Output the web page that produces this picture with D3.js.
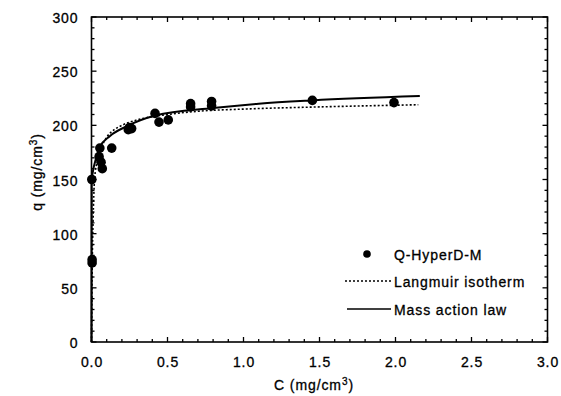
<!DOCTYPE html>
<html><head><meta charset="utf-8">
<script src="https://cdn.jsdelivr.net/npm/d3@7"></script>
<style>body{margin:0;background:#fff}svg{display:block}text{font-family:"Liberation Sans",Arial,sans-serif;fill:#000;stroke:#000;stroke-width:0.3px;letter-spacing:0.9px}</style>
</head><body><svg id="c" width="561" height="396"></svg>
<script>
// Data
const pointC = [0.002, 0.004, 0.004, 0.05, 0.055, 0.063, 0.071, 0.133, 0.242, 0.264, 0.25, 0.418, 0.444, 0.505, 0.652, 0.652, 0.79, 0.79, 1.453, 1.99];
const pointQ = [150, 76, 73, 171, 179, 166, 160, 179, 196, 197, 198, 211, 203, 205, 220, 217, 222, 218, 223, 221];
const langC = [0, 0.005, 0.01, 0.02, 0.04, 0.07, 0.1, 0.15, 0.2, 0.3, 0.4, 0.5, 0.7, 1.0, 1.5, 2.15];
const langQ = [0, 74, 110, 150, 168, 181, 189, 196, 200, 205, 208, 210, 213, 215, 217, 219];
const massC = [0, 0.001, 0.01, 0.025, 0.055, 0.12, 0.23, 0.42, 0.8, 1.1, 1.45, 2.16];
const massQ = [0, 148, 158, 167, 180, 190, 199, 209, 216, 220, 223, 227];
const xTicks = [0, 0.5, 1.0, 1.5, 2.0, 2.5, 3.0];
const yTicks = [0, 50, 100, 150, 200, 250, 300];
const legendLabels = ["Q-HyperD-M", "Langmuir isotherm", "Mass action law"];

const svg = d3.select("#c");
const L = 91.5, R = 547.5, T = 17, B = 342;
const x = d3.scaleLinear().domain([0, 3]).range([L, R]);
const y = d3.scaleLinear().domain([0, 300]).range([B, T]);

// ticks on all 4 sides
const xMinor = d3.range(0, 3.0001, 0.1);
const yMinor = d3.range(0, 300.001, 10);
const g = svg.append("g").attr("stroke", "#000");
xMinor.forEach(v => {
  const major = xTicks.some(t => Math.abs(t - v) < 1e-6);
  const len = major ? 5 : 3;
  g.append("line").attr("x1", x(v)).attr("x2", x(v)).attr("y1", B).attr("y2", B - len).attr("stroke-width", 1.3);
  g.append("line").attr("x1", x(v)).attr("x2", x(v)).attr("y1", T).attr("y2", T + len).attr("stroke-width", 1.3);
});
yMinor.forEach(v => {
  const major = yTicks.some(t => Math.abs(t - v) < 1e-6);
  const len = major ? 5 : 3;
  g.append("line").attr("y1", y(v)).attr("y2", y(v)).attr("x1", L).attr("x2", L + len).attr("stroke-width", 1.3);
  g.append("line").attr("y1", y(v)).attr("y2", y(v)).attr("x1", R).attr("x2", R - len).attr("stroke-width", 1.3);
});
svg.append("rect").attr("x", L).attr("y", T).attr("width", R - L).attr("height", B - T)
  .attr("fill", "none").attr("stroke", "#000").attr("stroke-width", 1.6);

// tick labels
svg.append("g").selectAll("text").data(xTicks).join("text")
  .attr("x", d => x(d) + 0.5).attr("y", 367).attr("text-anchor", "middle")
  .attr("font-size", 14).text(d => d.toFixed(1));
svg.append("g").selectAll("text").data(yTicks).join("text")
  .attr("x", 78.5).attr("y", d => y(d) + 6).attr("text-anchor", "end")
  .attr("font-size", 14).text(d => d);

// axis titles
const xt = svg.append("text").attr("x", 314).attr("y", 390).attr("text-anchor", "middle").attr("font-size", 14);
xt.append("tspan").text("C (mg/cm");
xt.append("tspan").attr("font-size", 10).attr("dy", -5).text("3");
xt.append("tspan").attr("dy", 5).text(")");
const yt = svg.append("text").attr("transform", "translate(42,172) rotate(-90)").attr("text-anchor", "middle").attr("font-size", 14);
yt.append("tspan").text("q (mg/cm");
yt.append("tspan").attr("font-size", 10).attr("dy", -5).text("3");
yt.append("tspan").attr("dy", 5).text(")");

// curves
const line = d3.line().x(d => x(d[0])).y(d => y(d[1])).curve(d3.curveMonotoneX);
svg.append("path").datum(d3.zip(langC, langQ)).attr("d", line)
  .attr("fill", "none").attr("stroke", "#000").attr("stroke-width", 1.6).attr("stroke-dasharray", "2,2");
svg.append("path").datum(d3.zip(massC, massQ)).attr("d", line)
  .attr("fill", "none").attr("stroke", "#000").attr("stroke-width", 2);

// points
svg.append("g").selectAll("circle").data(d3.zip(pointC, pointQ)).join("circle")
  .attr("cx", d => x(d[0])).attr("cy", d => y(d[1])).attr("r", 4.8).attr("fill", "#000");

// legend
const lg = svg.append("g");
lg.append("circle").attr("cx", 367).attr("cy", 254).attr("r", 3.8).attr("fill", "#000");
lg.append("line").attr("x1", 345).attr("x2", 391).attr("y1", 281).attr("y2", 281)
  .attr("stroke", "#000").attr("stroke-width", 1.5).attr("stroke-dasharray", "2,2");
lg.append("line").attr("x1", 347).attr("x2", 391).attr("y1", 309).attr("y2", 309)
  .attr("stroke", "#000").attr("stroke-width", 1.6);
lg.selectAll("text").data(legendLabels).join("text")
  .attr("x", 394).attr("y", (d, i) => 259.5 + i * 27.5).attr("font-size", 14).text(d => d);
</script></body></html>
